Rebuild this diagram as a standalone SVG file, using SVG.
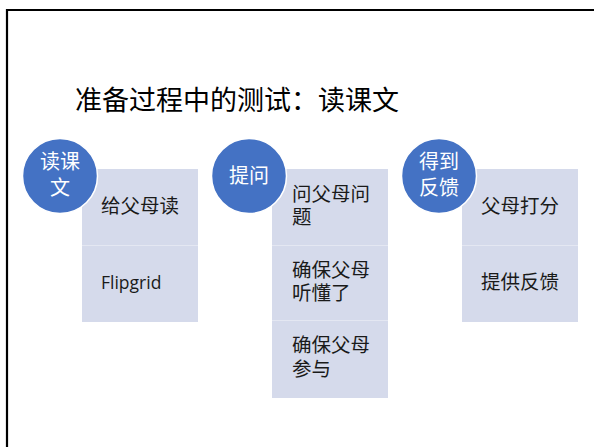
<svg xmlns="http://www.w3.org/2000/svg" width="594" height="447" viewBox="0 0 594 447">
<style>
.circ{fill:#4472C4;stroke:#ffffff;stroke-width:1.5}
.box{fill:#D5DAEB}
.div{stroke:#E4E7F2;stroke-width:1}
.ct{font-family:"Noto Sans CJK SC","Noto Sans",sans-serif;font-size:20px;fill:#ffffff;text-anchor:middle}
.bt{font-family:"Noto Sans CJK SC","Noto Sans",sans-serif;font-size:19.5px;fill:#1a1a1a}
.lt{font-family:"Open Sans","Noto Sans CJK SC",sans-serif;font-size:17.5px;fill:#1a1a1a}
</style>
<rect width="594" height="447" fill="#ffffff"/>
<path d="M7,447 V10 H594" fill="none" stroke="#000000" stroke-width="2.2"/>
<text x="75" y="110" font-family="Noto Sans CJK SC, sans-serif" font-size="27" fill="#000000">准备过程中的测试：读课文</text>
<g id="connectors"></g>
<g id="list1">
<rect class="box" x="82" y="169" width="116" height="153"/>
<line class="div" x1="82" y1="245.5" x2="198" y2="245.5"/>
<text class="bt" x="101" y="213">给父母读</text>
<text class="lt" x="101" y="289">Flipgrid</text>
</g>
<g id="node1">
<circle class="circ" cx="60" cy="176" r="37.5"/>
<text class="ct" x="60" y="169">读课</text>
<text class="ct" x="60" y="195">文</text>
</g>
<g id="list2">
<rect class="box" x="272" y="169" width="116" height="229"/>
<line class="div" x1="272" y1="245.5" x2="388" y2="245.5"/>
<line class="div" x1="272" y1="320.5" x2="388" y2="320.5"/>
<text class="bt" x="292" y="201">问父母问</text>
<text class="bt" x="292" y="224">题</text>
<text class="bt" x="292" y="277">确保父母</text>
<text class="bt" x="292" y="300">听懂了</text>
<text class="bt" x="292" y="352">确保父母</text>
<text class="bt" x="292" y="376">参与</text>
</g>
<g id="node2">
<circle class="circ" cx="249" cy="176" r="37.5"/>
<text class="ct" x="249" y="183">提问</text>
</g>
<g id="list3">
<rect class="box" x="462" y="169" width="116" height="153"/>
<line class="div" x1="462" y1="245.5" x2="578" y2="245.5"/>
<text class="bt" x="481" y="213">父母打分</text>
<text class="bt" x="481" y="289">提供反馈</text>
</g>
<g id="node3">
<circle class="circ" cx="439" cy="176" r="37.5"/>
<text class="ct" x="439" y="169">得到</text>
<text class="ct" x="439" y="195">反馈</text>
</g>
</svg>
